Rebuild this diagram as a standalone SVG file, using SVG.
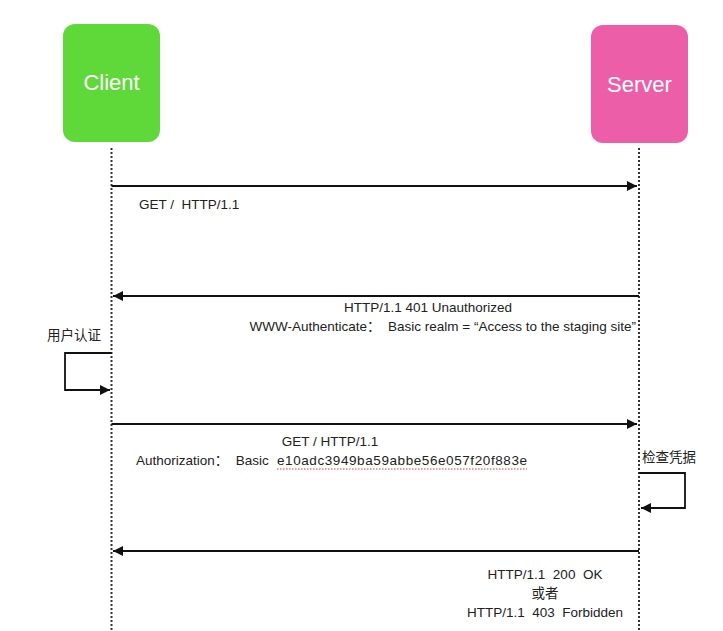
<svg xmlns="http://www.w3.org/2000/svg" width="723" height="631" viewBox="0 0 723 631">
<style>
.lbl{font-family:"Liberation Sans","Noto Sans CJK SC",sans-serif;font-size:13.5px;fill:#222;white-space:pre}
.node-t{font-family:"Liberation Sans",Arial,sans-serif;font-size:22px;fill:#fff}
.life{stroke:#333;stroke-width:2;stroke-dasharray:2 2;fill:none}
.msg{stroke:#111;stroke-width:1.8;fill:none}
</style>
<defs>
<marker id="ah" viewBox="0 0 10 10" refX="10" refY="5" markerWidth="10" markerHeight="10" markerUnits="userSpaceOnUse" orient="auto">
<path d="M0,0 L10,5 L0,10 z" fill="#111"/>
</marker>
</defs>
<rect width="723" height="631" fill="#fff"/>
<g id="client">
<rect x="63" y="24" width="97" height="118" rx="12" fill="#5fd93a"/>
<text class="node-t" x="111.5" y="90" text-anchor="middle">Client</text>
</g>
<g id="server">
<rect x="591" y="25" width="97" height="118" rx="12" fill="#ec5fa8"/>
<text class="node-t" x="639.5" y="92" text-anchor="middle">Server</text>
</g>
<g id="connectors">
<line class="life" x1="111.5" y1="148" x2="111.5" y2="631"/>
<line class="life" x1="639" y1="148" x2="639" y2="631"/>
<line class="msg" x1="111.5" y1="186" x2="637" y2="186" marker-end="url(#ah)"/>
<line class="msg" x1="639" y1="296" x2="113" y2="296" marker-end="url(#ah)"/>
<polyline class="msg" points="111.5,353 65,353 65,390 110,390" marker-end="url(#ah)"/>
<line class="msg" x1="111.5" y1="424" x2="637" y2="424" marker-end="url(#ah)"/>
<polyline class="msg" points="639,473 685,473 685,508 641,508" marker-end="url(#ah)"/>
<line class="msg" x1="639" y1="551" x2="113" y2="551" marker-end="url(#ah)"/>
</g>
<g id="labels">
<text class="lbl" x="139" y="209">GET /  HTTP/1.1</text>
<text class="lbl" x="428" y="312" text-anchor="middle">HTTP/1.1 401 Unauthorized</text>
<text class="lbl" x="636" y="331" text-anchor="end">WWW-Authenticate：  Basic realm = “Access to the staging site”</text>
<text class="lbl" x="47" y="340">用户认证</text>
<text class="lbl" x="330" y="446" text-anchor="middle">GET / HTTP/1.1</text>
<text class="lbl" x="136" y="465">Authorization：  Basic  <tspan x="277" textLength="250" lengthAdjust="spacing">e10adc3949ba59abbe56e057f20f883e</tspan></text>
<line x1="277" y1="469" x2="527" y2="469" stroke="#e33" stroke-width="1.2" stroke-dasharray="1.5 1.5"/>
<text class="lbl" x="642" y="462">检查凭据</text>
<text class="lbl" x="545" y="579" text-anchor="middle">HTTP/1.1  200  OK</text>
<text class="lbl" x="545" y="598" text-anchor="middle">或者</text>
<text class="lbl" x="545" y="617" text-anchor="middle">HTTP/1.1  403  Forbidden</text>
</g>
</svg>
